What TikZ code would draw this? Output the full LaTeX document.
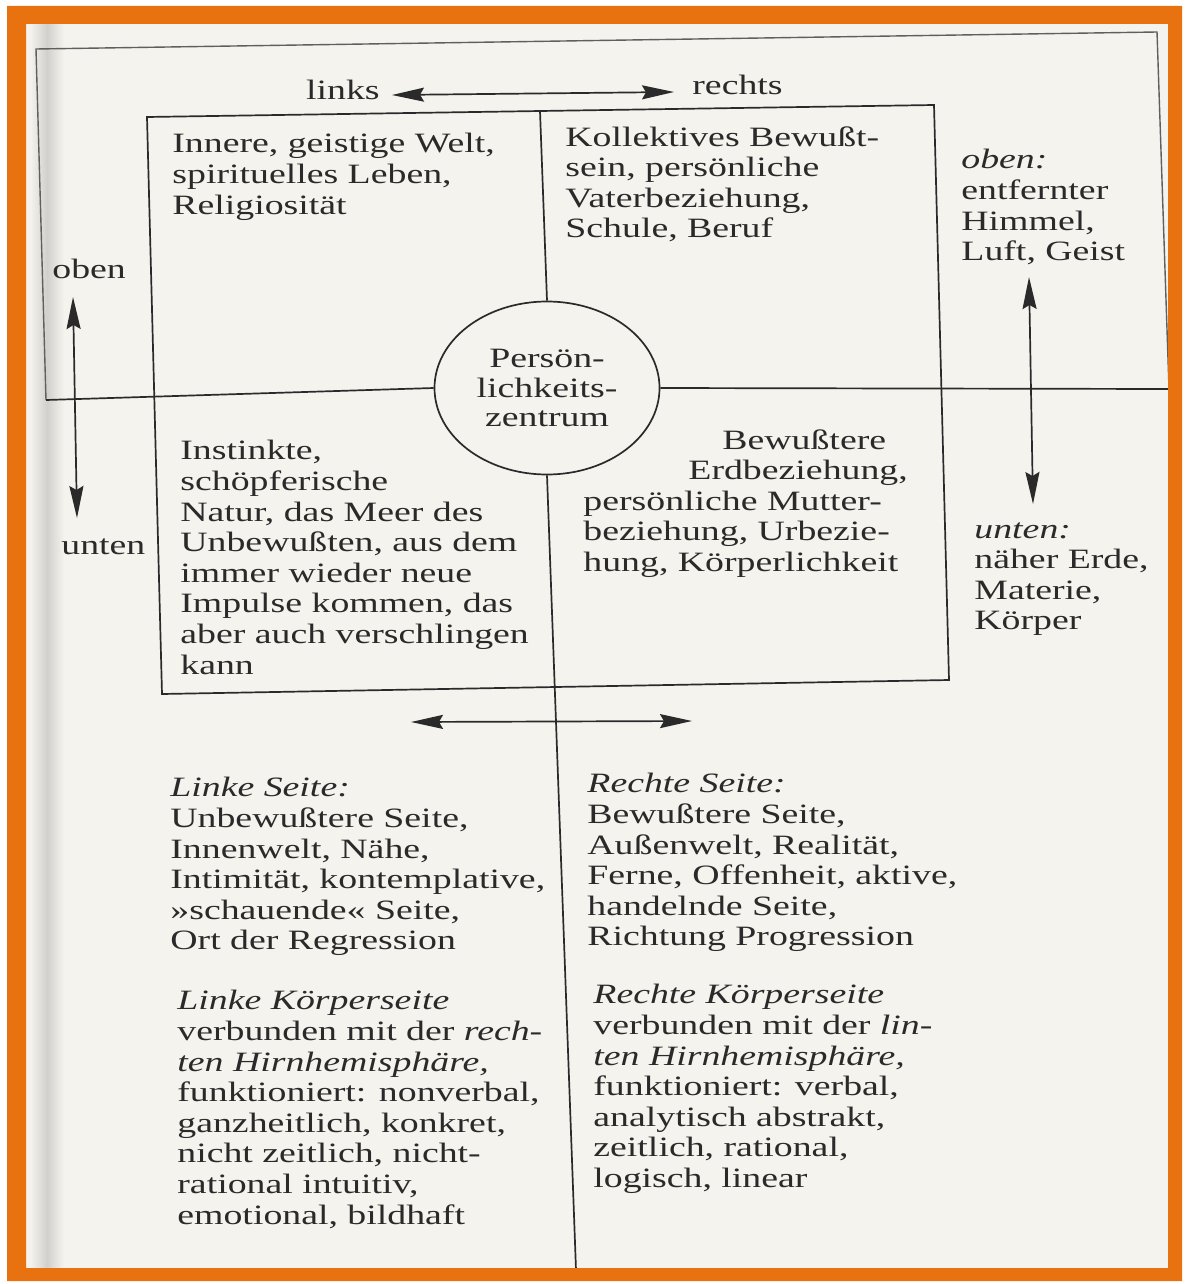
\documentclass[tikz,border=0pt]{standalone}
\usepackage{fontspec}
\setmainfont{Liberation Serif}[FakeStretch=1.35]
\usetikzlibrary{arrows.meta, positioning, shapes.geometric}
\definecolor{rahmen}{HTML}{E8720F}
\definecolor{papier}{HTML}{F5F3EE}
\definecolor{tinte}{HTML}{2A2A2A}

\begin{document}
\begin{tikzpicture}[
        x=0.5pt, y=-0.5pt,
        linie/.style={draw=tinte, line width=0.85pt},
        duennlinie/.style={draw=tinte!75, line width=0.7pt},
        pfeil/.style={linie, {Stealth[length=16pt, width=7pt, inset=2pt]}-{Stealth[length=16pt, width=7pt, inset=2pt]}},
        textblock/.style={anchor=north west, inner sep=0pt, align=left, text=tinte, font=\fontsize{14}{15.3}\selectfont},
        randtext/.style={inner sep=0pt, text=tinte, font=\fontsize{14}{15.3}\selectfont},
        zentrumstil/.style={ellipse, draw=tinte, line width=0.85pt, fill=papier, minimum width=112.5pt, minimum height=86.5pt, inner sep=0pt, align=center, text=tinte, font=\fontsize{14}{14.6}\selectfont}
    ]
        \useasboundingbox (0,0) rectangle (1187,1284);
        % Papier
        \fill[white] (0,0) rectangle (1187,1284);
        \fill[papier] (26,24) rectangle (1168,1268);
        \shade[left color=papier, right color=papier, middle color=gray!30!papier] (30,24) rectangle (64,1268);

        % Rahmen der Seite
        \coordinate (rahmenOL) at (36,49);
        \coordinate (rahmenOR) at (1157,32);
        \coordinate (rahmenML) at (46,400);
        \coordinate (rahmenMR) at (1169,389);
        \draw[duennlinie] (rahmenML) -- (rahmenOL) -- (rahmenOR) -- (rahmenMR);

        % innerer Kasten
        \coordinate (kastenOL) at (147,117);
        \coordinate (kastenOR) at (934,105);
        \coordinate (kastenUR) at (949,680);
        \coordinate (kastenUL) at (162,694);
        \draw[linie] (kastenOL) -- (kastenOR) -- (kastenUR) -- (kastenUL) -- cycle;

        % Mitte
        \node [zentrumstil] (zentrum) at (547,388) {Persön-\\lichkeits-\\zentrum};
        \coordinate (achseO) at (540,111);
        \coordinate (achseU) at (576,1270);
        \draw[linie] (achseO) -- (zentrum.north);
        \draw[linie] (zentrum.south) -- (achseU);
        \draw[linie] (rahmenML) -- (zentrum.west);
        \draw[linie] (zentrum.east) -- (rahmenMR);

        % Beschriftung der Richtungen
        \node [randtext, anchor=base east] (links) at (380,100) {links};
        \node [randtext, anchor=base west] (rechts) at (692,95) {rechts};
        \node [randtext, anchor=base west] (oben) at (52,278) {oben};
        \node [randtext, anchor=base west] (unten) at (61,554) {unten};

        % Pfeile
        \coordinate (pfeilL) at (392,95);
        \coordinate (pfeilR) at (674,92);
        \coordinate (pfeilLO) at (73,297);
        \coordinate (pfeilLU) at (77,518);
        \coordinate (pfeilRO) at (1029,277);
        \coordinate (pfeilRU) at (1033,504);
        \coordinate (pfeilUL) at (411,722);
        \coordinate (pfeilUR) at (692,721);
        \draw[pfeil] (pfeilL) -- (pfeilR);
        \draw[pfeil] (pfeilLO) -- (pfeilLU);
        \draw[pfeil] (pfeilRO) -- (pfeilRU);
        \draw[pfeil] (pfeilUL) -- (pfeilUR);

        % Felder im Kasten
        \node [textblock] (obenlinks) at (172,133) {Innere, geistige Welt,\\spirituelles Leben,\\Religiosität};
        \node [textblock] (obenrechts) at (565,126) {Kollektives Bewußt-\\sein, persönliche\\Vaterbeziehung,\\Schule, Beruf};
        \node [textblock] (untenlinks) at (180,440) {Instinkte,\\schöpferische\\Natur, das Meer des\\Unbewußten, aus dem\\immer wieder neue\\Impulse kommen, das\\aber auch verschlingen\\kann};
        \node [textblock] (untenrechts) at (583,429) {\hspace*{69.5pt}Bewußtere\\\hspace*{52.5pt}Erdbeziehung,\\persönliche Mutter-\\beziehung, Urbezie-\\hung, Körperlichkeit};

        % rechte Spalte
        \node [textblock] (himmel) at (961,149) {\textit{oben:}\\entfernter\\Himmel,\\Luft, Geist};
        \node [textblock] (erde) at (974,522) {\textit{unten:}\\näher Erde,\\Materie,\\Körper};

        % unter dem Kasten
        \node [textblock] (linkeseite) at (170,777) {\textit{Linke Seite:}\\Unbewußtere Seite,\\Innenwelt, Nähe,\\Intimität, kontemplative,\\»schauende« Seite,\\Ort der Regression};
        \node [textblock] (linkekoerper) at (177,990) {\textit{Linke Körperseite}\\verbunden mit der \textit{rech-}\\\textit{ten Hirnhemisphäre,}\\funktioniert: nonverbal,\\ganzheitlich, konkret,\\nicht zeitlich, nicht-\\rational intuitiv,\\emotional, bildhaft};
        \node [textblock] (rechteseite) at (587,773) {\textit{Rechte Seite:}\\Bewußtere Seite,\\Außenwelt, Realität,\\Ferne, Offenheit, aktive,\\handelnde Seite,\\Richtung Progression};
        \node [textblock] (rechtekoerper) at (593,984) {\textit{Rechte Körperseite}\\verbunden mit der \textit{lin-}\\\textit{ten Hirnhemisphäre,}\\funktioniert: verbal,\\analytisch abstrakt,\\zeitlich, rational,\\logisch, linear};

        % oranger Rand
        \fill[rahmen, even odd rule] (7,6) rectangle (1182,1281) (26,24) rectangle (1168,1268);
    \end{tikzpicture}
\end{document}
